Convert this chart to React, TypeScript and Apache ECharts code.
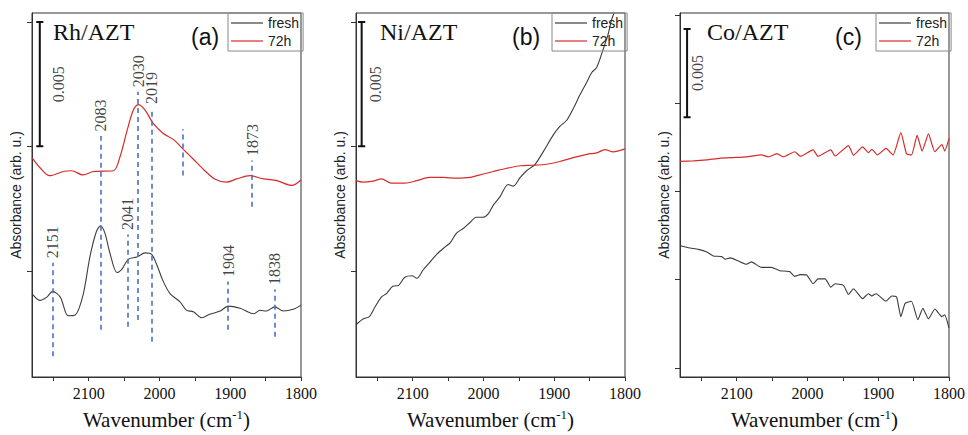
import React, { useEffect, useRef } from "react";
import * as echarts from "echarts";

// ---------- Data (wavenumber in cm-1, absorbance) ----------
// Panel (a) Rh/AZT
const waveRhFresh = [2180, 2169, 2159, 2151, 2140, 2129, 2119, 2108, 2098, 2089, 2083, 2077, 2070, 2060, 2053, 2044, 2032, 2020, 2011, 2004, 1995, 1985, 1971, 1962, 1952, 1940, 1929, 1914, 1903, 1886, 1867, 1858, 1849, 1837, 1825, 1811, 1800];
const absRhFresh = [-0.00092, -0.00119, -0.00106, -0.00083, -0.00106, -0.00181, -0.00178, -0.00099, 0.00059, 0.00158, 0.00181, 0.00151, 0.00072, -0.00007, 0.00007, 0.00046, 0.00055, 0.00072, 0.00066, 0.00026, -0.0004, -0.00092, -0.00125, -0.00158, -0.00165, -0.00189, -0.00175, -0.00162, -0.00142, -0.00151, -0.00173, -0.00159, -0.00162, -0.00145, -0.00162, -0.00155, -0.00138];
const waveRh72 = [2180, 2169, 2155, 2136, 2124, 2108, 2093, 2065, 2056, 2046, 2037, 2030, 2020, 2009, 1995, 1980, 1966, 1952, 1938, 1922, 1905, 1891, 1872, 1853, 1834, 1813, 1800];
const absRh72 = [0.00455, 0.00415, 0.00382, 0.00399, 0.00402, 0.00385, 0.00399, 0.00402, 0.00455, 0.0056, 0.00645, 0.00668, 0.00645, 0.00593, 0.00553, 0.00527, 0.00487, 0.00448, 0.00408, 0.00369, 0.00356, 0.00369, 0.00382, 0.00369, 0.00362, 0.00343, 0.00365];

// Panel (a) band annotations
const bandWave = [2151, 2083, 2045, 2030, 2011, 1967, 1903, 1869, 1837];
const bandLabel = ["2151", "2083", "2041", "2030", "2019", "", "1904", "1873", "1838"];
const bandTop = [0.00032, 0.00542, 0.00146, 0.00719, 0.00652, 0.00569, -0.00043, 0.00443, -0.00075];
const bandBottom = [-0.00344, -0.00237, -0.00225, -0.00198, -0.00285, 0.00383, -0.00237, 0.00257, -0.00265];

// Panel (b) Ni/AZT
const waveNiFresh = [2180, 2170, 2161, 2153, 2144, 2137, 2128, 2120, 2111, 2101, 2094, 2085, 2076, 2066, 2054, 2047, 2038, 2028, 2019, 2010, 2001, 1993, 1986, 1977, 1965, 1958, 1948, 1939, 1927, 1915, 1901, 1892, 1882, 1873, 1864, 1854, 1847, 1840, 1831, 1824, 1819, 1814];
const absNiFresh = [-0.00217, -0.00194, -0.00184, -0.00145, -0.00105, -0.00092, -0.00062, -0.00059, -0.00026, -0.0002, -0.0003, 0.00004, 0.00033, 0.00066, 0.00096, 0.00112, 0.00151, 0.00171, 0.00194, 0.00215, 0.00215, 0.0023, 0.00264, 0.00296, 0.00347, 0.0034, 0.00375, 0.00402, 0.00428, 0.00481, 0.00547, 0.0058, 0.00606, 0.00652, 0.00705, 0.00758, 0.00797, 0.00817, 0.00889, 0.00949, 0.01008, 0.01047];
const waveNi72 = [2180, 2170, 2156, 2144, 2130, 2111, 2094, 2076, 2057, 2038, 2019, 2000, 1986, 1967, 1948, 1930, 1911, 1892, 1873, 1854, 1840, 1828, 1817, 1800];
const absNi72 = [0.00362, 0.00356, 0.0036, 0.00369, 0.00352, 0.00352, 0.00362, 0.00375, 0.00375, 0.00372, 0.00375, 0.00389, 0.00399, 0.00412, 0.00422, 0.00424, 0.00428, 0.00439, 0.00455, 0.00468, 0.00474, 0.00487, 0.00478, 0.0049];

// Panel (c) Co/AZT
const waveCoFresh = [2180, 2168, 2154, 2142, 2133, 2121, 2116, 2109, 2098, 2086, 2079, 2065, 2051, 2039, 2025, 2018, 2010, 2001, 1992, 1985, 1975, 1967, 1961, 1949, 1942, 1935, 1922, 1914, 1909, 1903, 1889, 1881, 1874, 1868, 1862, 1853, 1844, 1837, 1829, 1820, 1810, 1806, 1800];
const absCoFresh = [0.00193, 0.0018, 0.00171, 0.00156, 0.00134, 0.0013, 0.00115, 0.00123, 0.00106, 0.00087, 0.001, 0.00069, 0.00069, 0.0005, 0.00045, 0.00018, 0.00028, 0.00026, -0.00024, 0.00004, 0.00004, -0.00043, -0.00024, -0.00033, -0.00085, -0.00052, -0.00108, -0.0008, -0.00093, -0.0008, -0.00123, -0.00093, -0.00099, -0.0021, -0.00135, -0.00123, -0.00228, -0.00163, -0.00223, -0.00167, -0.0021, -0.002, -0.00275];
const waveCo72 = [2180, 2161, 2142, 2124, 2105, 2086, 2065, 2055, 2043, 2034, 2018, 2010, 1992, 1985, 1967, 1961, 1942, 1935, 1922, 1914, 1909, 1901, 1889, 1879, 1868, 1860, 1853, 1845, 1838, 1829, 1820, 1810, 1806, 1800];
const absCo72 = [0.00669, 0.00672, 0.00678, 0.00687, 0.00691, 0.00695, 0.00706, 0.00695, 0.00713, 0.00695, 0.00724, 0.00698, 0.00735, 0.00698, 0.00735, 0.007, 0.00759, 0.00704, 0.00752, 0.00719, 0.00737, 0.00706, 0.00743, 0.00706, 0.00832, 0.00713, 0.00706, 0.00817, 0.00728, 0.00825, 0.00724, 0.00765, 0.00728, 0.00798];

// Axis settings
const xTickValues = [2150, 2100, 2050, 2000, 1950, 1900, 1850, 1800];
const xLabelValues = [2100, 2000, 1900, 1800];
const panelNames = ["Rh/AZT", "Ni/AZT", "Co/AZT"];
const panelTags = ["(a)", "(b)", "(c)"];
const yMin = [-0.00427, -0.00427, -0.00552];
const yMax = [0.01036, 0.01036, 0.0151];
const yTicks = [[0, 0.005, 0.01], [0, 0.005, 0.01], [-0.005, 0, 0.005, 0.01, 0.015]];

// Scale bars (0.005)
const scaleWave = [2169, 2172, 2170];
const scaleLow = [0.005, 0.005, 0.0092];
const scaleHigh = [0.01, 0.01, 0.0142];
const scaleLabelWave = [2143, 2153, 2155];
const scaleLabel = "0.005";

const SERIF = "Liberation Serif";
const SANS = "Liberation Sans";
const FRESH = "#3d3d3d";
const AGED = "#d62b2b";
const BAND = "#4a70c6";

const gridLefts = [32, 356, 680];
const GRID_TOP = 13;
const GRID_W = 269;
const GRID_H = 370;

function pairs(w: number[], a: number[]) {
  return w.map((x, i) => [x, a[i]]);
}

export default function App() {
  const ref = useRef<HTMLDivElement>(null);

  useEffect(() => {
    if (!ref.current) return;
    const chart = echarts.init(ref.current, undefined, { renderer: "svg" });

    const freshData = [pairs(waveRhFresh, absRhFresh), pairs(waveNiFresh, absNiFresh), pairs(waveCoFresh, absCoFresh)];
    const agedData = [pairs(waveRh72, absRh72), pairs(waveNi72, absNi72), pairs(waveCo72, absCo72)];

    const grids = gridLefts.map((l) => ({
      left: l,
      top: GRID_TOP,
      width: GRID_W,
      height: GRID_H,
      show: true,
      borderColor: "#333",
      borderWidth: 1,
      backgroundColor: "transparent",
    }));

    const xAxes = gridLefts.map((_, i) => ({
      gridIndex: i,
      type: "value",
      min: 1800,
      max: 2180,
      inverse: true,
      axisLine: { show: true, onZero: false, lineStyle: { color: "#333", width: 1 } },
      axisTick: { show: true, customValues: xTickValues, length: 4, inside: false, lineStyle: { color: "#333" } },
      axisLabel: {
        show: true,
        customValues: xLabelValues,
        formatter: (v: number) => String(v),
        fontFamily: SERIF,
        fontSize: 16,
        color: "#111",
        margin: 8,
      },
      splitLine: { show: false },
      name: "{n|Wavenumber (cm}{s|-1}{n|)}",
      nameLocation: "middle",
      nameGap: 31,
      nameTextStyle: {
        fontFamily: SERIF,
        fontSize: 21,
        color: "#111",
        rich: {
          n: { fontFamily: SERIF, fontSize: 21, color: "#111", lineHeight: 23 },
          s: { fontFamily: SERIF, fontSize: 13, color: "#111", verticalAlign: "top", lineHeight: 23 },
        },
      },
    }));

    const yAxes = gridLefts.map((_, i) => ({
      gridIndex: i,
      type: "value",
      min: yMin[i],
      max: yMax[i],
      axisLine: { show: true, onZero: false, lineStyle: { color: "#333", width: 1 } },
      axisTick: { show: true, customValues: yTicks[i], length: 5, inside: false, lineStyle: { color: "#333" } },
      axisLabel: { show: false },
      splitLine: { show: false },
      name: "Absorbance (arb. u.)",
      nameLocation: "middle",
      nameGap: 9,
      nameTextStyle: { fontFamily: SANS, fontSize: 14, color: "#222" },
    }));

    const series: any[] = [];
    for (let i = 0; i < 3; i++) {
      const fresh: any = {
        name: "fresh",
        type: "line",
        xAxisIndex: i,
        yAxisIndex: i,
        data: freshData[i],
        symbol: "none",
        smooth: i === 2 ? 0.15 : 0.3,
        lineStyle: { color: FRESH, width: 1.1 },
        itemStyle: { color: FRESH },
        silent: true,
        z: 3,
      };
      if (i === 0) {
        fresh.markLine = {
          silent: true,
          symbol: ["none", "none"],
          label: { show: false },
          lineStyle: { color: BAND, width: 1.6, type: [5, 4] },
          data: bandWave.map((w, k) => [
            { coord: [w, bandBottom[k]] },
            { coord: [w, bandTop[k]] },
          ]),
        };
      }
      series.push(fresh);
      series.push({
        name: "72h",
        type: "line",
        xAxisIndex: i,
        yAxisIndex: i,
        data: agedData[i],
        symbol: "none",
        smooth: i === 2 ? 0.15 : 0.3,
        lineStyle: { color: AGED, width: 1.2 },
        itemStyle: { color: AGED },
        silent: true,
        z: 3,
      });
      const w = scaleWave[i];
      series.push({
        name: "scale" + i,
        type: "line",
        xAxisIndex: i,
        yAxisIndex: i,
        data: [
          [w + 5, scaleHigh[i]],
          [w - 5, scaleHigh[i]],
          [w, scaleHigh[i]],
          [w, scaleLow[i]],
          [w + 5, scaleLow[i]],
          [w - 5, scaleLow[i]],
        ],
        symbol: "none",
        lineStyle: { color: "#111", width: 2 },
        silent: true,
        z: 4,
      });
      series.push({
        name: "scaleLabel" + i,
        type: "scatter",
        xAxisIndex: i,
        yAxisIndex: i,
        data: [{ value: [scaleLabelWave[i], (scaleLow[i] + scaleHigh[i]) / 2], name: scaleLabel }],
        symbolSize: 1,
        itemStyle: { color: "rgba(0,0,0,0)" },
        silent: true,
        label: {
          show: true,
          formatter: "{b}",
          position: "inside",
          rotate: 90,
          align: "center",
          verticalAlign: "middle",
          fontFamily: SERIF,
          fontSize: 16,
          color: "#111",
        },
      });
    }
    series.push({
      name: "bandLabels",
      type: "scatter",
      xAxisIndex: 0,
      yAxisIndex: 0,
      data: bandWave
        .map((w, k) => ({ value: [w, bandTop[k]], name: bandLabel[k] }))
        .filter((d) => d.name !== ""),
      symbolSize: 1,
      itemStyle: { color: "rgba(0,0,0,0)" },
      silent: true,
      label: {
        show: true,
        formatter: "{b}",
        position: "top",
        distance: 4,
        rotate: 90,
        align: "left",
        verticalAlign: "middle",
        fontFamily: SERIF,
        fontSize: 16,
        color: "#111",
      },
      z: 5,
    });

    const legendLefts = [228, 552, 876];
    const legends = legendLefts.map((l) => ({
      data: [
        { name: "fresh", icon: "path://M0,0H32V1.2H0Z" },
        { name: "72h", icon: "path://M0,0H32V1.2H0Z" },
      ],
      left: l,
      top: GRID_TOP,
      orient: "vertical",
      itemWidth: 32,
      itemHeight: 14,
      itemGap: 4,
      padding: [3, 4, 3, 3],
      borderColor: "#888",
      borderWidth: 1,
      selectedMode: false,
      textStyle: { fontFamily: SANS, fontSize: 14, color: "#222" },
    }));

    const titleX = [53, 380, 707];
    const tagX = [191, 512, 835];
    const graphics: any[] = [];
    for (let i = 0; i < 3; i++) {
      graphics.push({
        type: "text",
        x: titleX[i],
        y: 32,
        style: { text: panelNames[i], fontFamily: SERIF, fontSize: 24, fill: "#111", verticalAlign: "middle" },
        z: 10,
      });
      graphics.push({
        type: "text",
        x: tagX[i],
        y: 37,
        style: { text: panelTags[i], fontFamily: SANS, fontSize: 23, fill: "#111", verticalAlign: "middle" },
        z: 10,
      });
    }

    chart.setOption({
      animation: false,
      backgroundColor: "#fff",
      grid: grids,
      xAxis: xAxes,
      yAxis: yAxes,
      legend: legends,
      series,
      graphic: graphics,
    } as any);

    return () => chart.dispose();
  }, []);

  return (
    <div
      ref={ref}
      style={{ position: "fixed", left: 0, top: 0, width: 968, height: 435, background: "#fff" }}
    />
  );
}
